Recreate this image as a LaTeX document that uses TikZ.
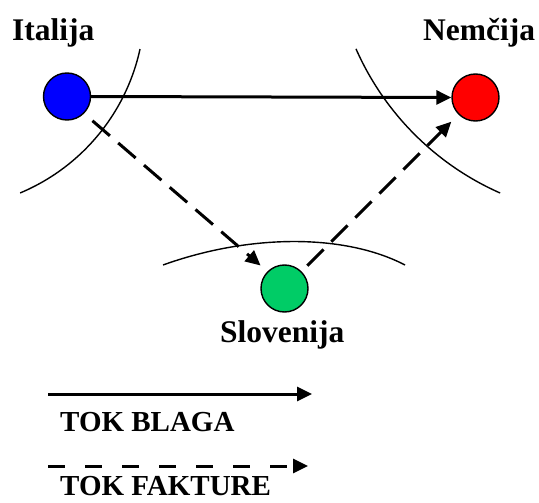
\documentclass[tikz,border=0pt]{standalone}
\usepackage{fontspec}
\setmainfont{Liberation Serif}
\usetikzlibrary{arrows.meta}
\definecolor{cblue}{RGB}{0,0,255}
\definecolor{cred}{RGB}{255,0,0}
\definecolor{cgreen}{RGB}{0,204,102}
\tikzset{
  country/.style={circle,draw=black,line width=1.4pt,minimum size=47pt,inner sep=0pt},
  clabel/.style={font=\bfseries\fontsize{31.5}{36}\selectfont,inner sep=0pt,anchor=base west},
  leglabel/.style={font=\bfseries\fontsize{29}{34}\selectfont,inner sep=0pt,anchor=base west},
  goods/.style={line width=3pt,-{Triangle[length=15pt,width=14pt]}},
  invoice/.style={line width=3pt,dash pattern=on 23pt off 11pt,-{Triangle[length=15pt,width=14pt]}},
  leginvoice/.style={line width=3pt,dash pattern=on 17pt off 20pt,-{Triangle[length=15pt,width=14pt]}},
  border/.style={line width=1.4pt}
}
\begin{document}
\begin{tikzpicture}[x=1pt,y=-1pt]
\useasboundingbox (0,0) rectangle (539,503);
% borders
\draw[border] plot[domain=12.3:67.3,samples=50,smooth] ({-58.2+202.9*cos(\x)},{5.8+202.9*sin(\x)});
\draw[border] plot[domain=113.8:156.2,samples=50,smooth] ({613.9+281.9*cos(\x)},{-64.9+281.9*sin(\x)});
\draw[border] (163,265) .. controls (250,233.7) and (345,233.7) .. (405,265);
% countries
\node[country,fill=cblue] (it) at (67,96.5) {};
\node[country,fill=cred] (de) at (475.5,97.5) {};
\node[country,fill=cgreen] (si) at (284.5,288.5) {};
\node[clabel] (itl) at (12,41) {Italija};
\node[clabel] (del) at (423,41) {Nemčija};
\node[clabel] (sil) at (220,342) {Slovenija};
% flows
\draw[goods] (it.east) -- (de.west);
\draw[invoice,shorten <=11pt,shorten >=9pt] (it.-45) -- (si.135);
\draw[invoice,shorten <=8pt,shorten >=10pt] (si.45) -- (de.-135);
% legend
\coordinate (l1s) at (48,394);
\coordinate (l1e) at (312,394);
\coordinate (l2s) at (48,466);
\coordinate (l2e) at (308,466);
\draw[goods] (l1s) -- (l1e);
\draw[leginvoice] (l2s) -- (l2e);
\node[leglabel] (t1) at (60,431) {TOK BLAGA};
\node[leglabel] (t2) at (60,495) {TOK FAKTURE};
\end{tikzpicture}
\end{document}
